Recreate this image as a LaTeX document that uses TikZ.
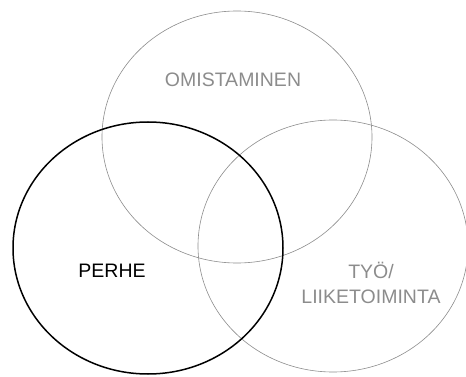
\documentclass[tikz,border=0pt]{standalone}
\usepackage{fontspec}
\setmainfont{Liberation Sans}
\usetikzlibrary{shapes.geometric}
\begin{document}
\begin{tikzpicture}[x=1pt,y=-1pt,
  set/.style={ellipse, minimum width=270pt, minimum height=252pt, inner sep=0pt},
  lightset/.style={set, draw=black!45, line width=0.6pt},
  mainset/.style={set, draw=black, line width=1.5pt},
  lbl/.style={font=\fontsize{19.5}{23}\selectfont, inner sep=0pt, align=center},
  graylbl/.style={lbl, text=black!45}]
\useasboundingbox (0,0) rectangle (466,377);
\node[lightset] (own) at (237,137) {};
\node[lightset] (work) at (333,246) {};
\node[mainset] (family) at (148,248) {};
\node[graylbl] (ownlbl) at (233,80) {OMISTAMINEN};
\node[lbl] (famlbl) at (112,271) {PERHE};
\node[graylbl, font=\fontsize{19.5}{25}\selectfont] (worklbl) at (371,283) {TYÖ/\\LIIKETOIMINTA};
\end{tikzpicture}
\end{document}
